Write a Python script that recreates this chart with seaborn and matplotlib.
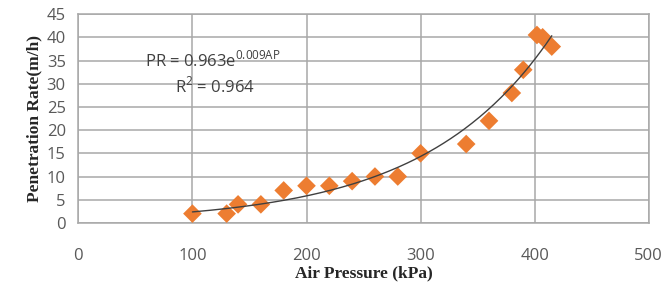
import seaborn as sns
import pandas as pd
import numpy as np
import matplotlib.pyplot as plt

# Datos
air_pressure = [100, 130, 140, 160, 180, 200, 220, 240, 260, 280, 300, 340, 360, 380, 390, 402, 407, 415]
pen_rate = [2, 2, 4, 4, 7, 8, 8, 9, 10, 10, 15, 17, 22, 28, 33, 40.5, 40, 38]
df = pd.DataFrame({'AP': air_pressure, 'PR': pen_rate})

# Coeficientes de la linea de tendencia
a_coef = 0.963
b_coef = 0.009

sns.set_style('white')
plt.rcParams['font.family'] = ['Open Sans', 'DejaVu Sans']

fig = plt.figure(figsize=(6.64, 2.88), dpi=100)
ax = fig.add_axes([0.118, 0.226, 0.859, 0.725])

sns.scatterplot(x='AP', y='PR', data=df, marker='D', s=90, color='#ED7D31',
                edgecolor='none', ax=ax, zorder=3)

# Linea de tendencia exponencial
xs = np.linspace(min(air_pressure), max(air_pressure), 200)
ax.plot(xs, a_coef * np.exp(b_coef * xs), color='#404040', lw=1.0, zorder=4)

ax.set_xlim(0, 500)
ax.set_ylim(0, 45)
ax.set_xticks(range(0, 501, 100))
ax.set_yticks(range(0, 46, 5))
ax.grid(True, color='#A8A8A8', lw=1.1)
ax.set_axisbelow(True)
for sp in ax.spines.values():
    sp.set_color('#A8A8A8')
    sp.set_linewidth(1.1)
ax.tick_params(axis='x', length=0, pad=18, labelsize=12, labelcolor='#595959')
ax.tick_params(axis='y', length=0, pad=9, labelsize=12, labelcolor='#595959')

ax.set_xlabel('Air Pressure (kPa)', family='Liberation Serif', weight='bold',
              fontsize=12.5, labelpad=1)
ax.set_ylabel('Penetration Rate(m/h)', family='Liberation Serif', weight='bold',
              fontsize=12.5, labelpad=3)

ax.text(118, 35, r'PR = 0.963e$^{\mathregular{0.009AP}}$', ha='center', va='center',
        fontsize=12, color='#404040')
ax.text(120, 29.5, r'R$^{\mathregular{2}}$ = 0.964', ha='center', va='center',
        fontsize=12, color='#404040')

plt.savefig('out.png', dpi=100)
